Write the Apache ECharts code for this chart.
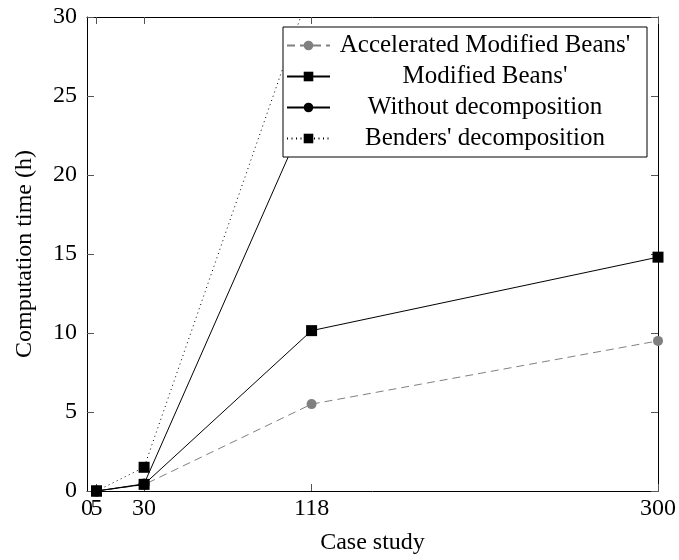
<!DOCTYPE html>
<html>
<head>
<meta charset="utf-8">
<script src="https://cdn.jsdelivr.net/npm/echarts@6/dist/echarts.min.js"></script>
<style>html,body{margin:0;padding:0;background:#fff;}#c{width:679px;height:560px;}</style>
</head>
<body>
<div id="c"></div>
<script>
// Data
const caseStudies = [5, 30, 118, 300];
const xOriginTick = [0];
const yTickStep = 5;
const acceleratedModified = [[5, 0], [30, 0.4], [118, 5.5], [300, 9.5]];
const modifiedBeans = [[5, 0], [30, 0.42], [118, 10.15], [300, 14.8]];
const withoutDecomposition = [[5, 0], [30, 0.45], [118, 24.5]];
const bendersDecomposition = [[5, 0], [30, 1.5], [118, 32]];
const seriesNames = ["Accelerated Modified Beans'", "Modified Beans'", "Without decomposition", "Benders' decomposition"];

const FONT = 'Liberation Serif';
const chart = echarts.init(document.getElementById('c'));
function axisLine() { return {show: true, onZero: false, lineStyle: {color: '#000', width: 1}}; }
function tick(extra) {
  return Object.assign({show: true, inside: true, length: 7, lineStyle: {color: '#555', width: 1}}, extra || {});
}
const xLabel = {color: '#000', fontFamily: FONT, fontSize: 24, margin: 6, hideOverlap: false, showMinLabel: true, showMaxLabel: true};

chart.setOption({
  animation: false,
  backgroundColor: '#fff',
  grid: {left: 87, right: 20, top: 17, bottom: 65, containLabel: false},
  xAxis: [{
    type: 'value', min: 0, max: 300, position: 'bottom',
    axisLine: axisLine(),
    axisTick: tick({customValues: caseStudies}),
    axisLabel: Object.assign({customValues: caseStudies}, xLabel),
    splitLine: {show: false},
    name: 'Case study', nameLocation: 'middle', nameGap: 40,
    nameTextStyle: {color: '#000', fontFamily: FONT, fontSize: 24}
  }, {
    type: 'value', min: 0, max: 300, position: 'top',
    axisLine: axisLine(),
    axisTick: tick({customValues: caseStudies}),
    axisLabel: {show: false},
    splitLine: {show: false}
  }, {
    type: 'value', min: 0, max: 300, position: 'bottom', offset: 0,
    axisLine: {show: false},
    axisTick: {show: false},
    axisLabel: Object.assign({customValues: xOriginTick}, xLabel),
    splitLine: {show: false}
  }],
  yAxis: [{
    type: 'value', min: 0, max: 30, interval: yTickStep, position: 'left',
    axisLine: axisLine(), axisTick: tick(),
    axisLabel: {color: '#000', fontFamily: FONT, fontSize: 24, margin: 10},
    splitLine: {show: false},
    name: 'Computation time (h)', nameLocation: 'middle', nameGap: 50, nameRotate: 90,
    nameTextStyle: {color: '#000', fontFamily: FONT, fontSize: 24}
  }, {
    type: 'value', min: 0, max: 30, interval: yTickStep, position: 'right',
    axisLine: axisLine(), axisTick: tick(),
    axisLabel: {show: false},
    splitLine: {show: false}
  }],
  legend: {
    left: 283, top: 27, orient: 'vertical',
    backgroundColor: '#fff', borderColor: '#000', borderWidth: 1, borderRadius: 0,
    padding: [6, 12, 6, 3],
    itemWidth: 43, itemHeight: 12, itemGap: 6,
    data: seriesNames,
    formatter: function (n) { return '{t|' + n + '}'; },
    textStyle: {
      color: '#000', fontFamily: FONT, fontSize: 25,
      rich: {t: {width: 300, align: 'center', fontFamily: FONT, fontSize: 25, lineHeight: 24, color: '#000'}}
    }
  },
  series: [{
    name: seriesNames[0], type: 'line', data: acceleratedModified,
    symbol: 'circle', symbolSize: 10,
    itemStyle: {color: '#808080'},
    lineStyle: {color: '#808080', width: 1, type: [8, 5]}
  }, {
    name: seriesNames[2], type: 'line', data: withoutDecomposition,
    symbol: 'circle', symbolSize: 11,
    itemStyle: {color: '#000'},
    lineStyle: {color: '#000', width: 1, type: 'solid'}
  }, {
    name: seriesNames[3], type: 'line', data: bendersDecomposition,
    symbol: 'rect', symbolSize: 11,
    itemStyle: {color: '#000'},
    lineStyle: {color: '#000', width: 1, type: [1, 3.5]}
  }, {
    name: seriesNames[1], type: 'line', data: modifiedBeans,
    symbol: 'rect', symbolSize: 11,
    itemStyle: {color: '#000'},
    lineStyle: {color: '#000', width: 1, type: 'solid'}
  }]
});
</script>
</body>
</html>
